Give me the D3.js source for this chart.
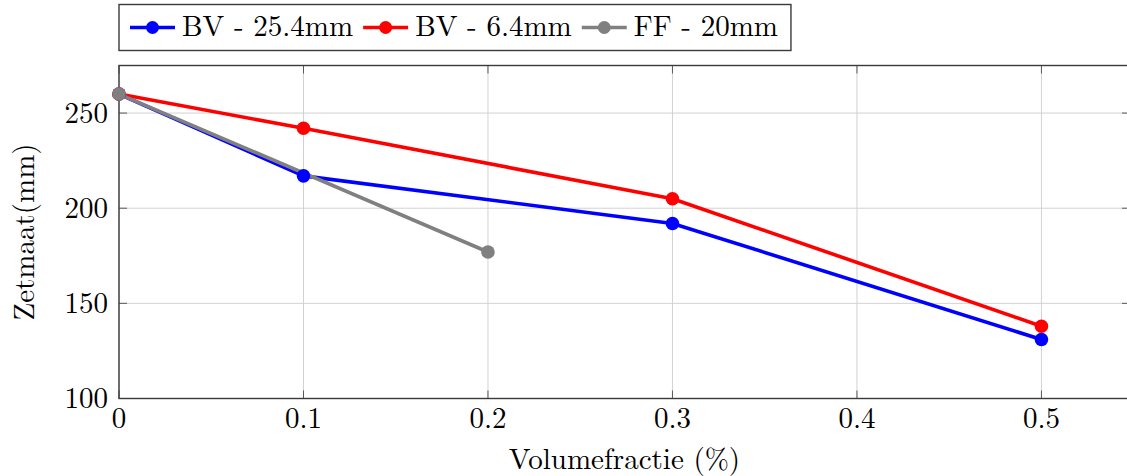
<!DOCTYPE html>
<html>
<head>
<meta charset="utf-8">
<script src="https://cdn.jsdelivr.net/npm/d3@7"></script>
<style>
  html, body { margin: 0; padding: 0; background: #fff; overflow: hidden; }
  svg { display: block; }
</style>
</head>
<body>
<svg id="chart" width="1127" height="476"></svg>
<script>
// Settlement (Zetmaat) versus fibre volume fraction
const seriesNames = ["BV - 25.4mm", "BV - 6.4mm", "FF - 20mm"];
const seriesColors = ["#0000ff", "#ff0000", "#808080"];
const bv254X = [0, 0.1, 0.3, 0.5];
const bv254Y = [260, 217, 192, 131];
const bv64X = [0, 0.1, 0.3, 0.5];
const bv64Y = [260, 242, 205, 138];
const ff20X = [0, 0.2];
const ff20Y = [260, 177];
const xTicks = [0, 0.1, 0.2, 0.3, 0.4, 0.5];
const yTicks = [100, 150, 200, 250];
const xTitle = "Volumefractie (%)";
const yTitle = "Zetmaat(mm)";

const series = [
  { name: seriesNames[0], color: seriesColors[0], pts: bv254X.map((x, i) => [x, bv254Y[i]]) },
  { name: seriesNames[1], color: seriesColors[1], pts: bv64X.map((x, i) => [x, bv64Y[i]]) },
  { name: seriesNames[2], color: seriesColors[2], pts: ff20X.map((x, i) => [x, ff20Y[i]]) }
];

const fontStack = "'Latin Modern Roman', 'CMU Serif', 'TeX Gyre Termes', 'Nimbus Roman', 'Nimbus Roman No9 L', " +
  "'FreeSerif', 'Noto Serif', 'Tinos', 'Liberation Serif', 'DejaVu Serif', 'Times New Roman', Times, Georgia, serif";

const plot = { left: 119, right: 1130, top: 65.5, bottom: 398.5 };
const svg = d3.select("#chart").style("font-family", fontStack);

const x = d3.scaleLinear().domain([0, 0.548]).range([plot.left, plot.right]);
const y = d3.scaleLinear().domain([100, 275]).range([plot.bottom, plot.top]);

const fontSize = 29;
const gridColor = "#d2d2d2";
const axisColor = "#3a3a3a";
const tickLen = 8;

// grid
const grid = svg.append("g");
grid.selectAll("line.gx").data(xTicks).join("line")
  .attr("x1", d => x(d)).attr("x2", d => x(d))
  .attr("y1", plot.top).attr("y2", plot.bottom)
  .attr("stroke", gridColor).attr("stroke-width", 1);
grid.selectAll("line.gy").data(yTicks).join("line")
  .attr("x1", plot.left).attr("x2", plot.right)
  .attr("y1", d => y(d)).attr("y2", d => y(d))
  .attr("stroke", gridColor).attr("stroke-width", 1);

// inward ticks on all sides
const ticks = svg.append("g").attr("stroke", "#5a5a5a").attr("stroke-width", 1);
xTicks.forEach(t => {
  ticks.append("line").attr("x1", x(t)).attr("x2", x(t)).attr("y1", plot.bottom).attr("y2", plot.bottom - tickLen);
  ticks.append("line").attr("x1", x(t)).attr("x2", x(t)).attr("y1", plot.top).attr("y2", plot.top + tickLen);
});
yTicks.forEach(t => {
  ticks.append("line").attr("x1", plot.left).attr("x2", plot.left + tickLen).attr("y1", y(t)).attr("y2", y(t));
  ticks.append("line").attr("x1", plot.right).attr("x2", plot.right - tickLen).attr("y1", y(t)).attr("y2", y(t));
});

// axis frame
svg.append("rect")
  .attr("x", plot.left).attr("y", plot.top)
  .attr("width", plot.right - plot.left).attr("height", plot.bottom - plot.top)
  .attr("fill", "none").attr("stroke", axisColor).attr("stroke-width", 1.4);

// tick labels
svg.append("g").selectAll("text").data(xTicks).join("text")
  .attr("x", d => x(d)).attr("y", 428)
  .attr("text-anchor", "middle").attr("font-size", fontSize)
  .text(d => d3.format("")(d));
svg.append("g").selectAll("text").data(yTicks).join("text")
  .attr("x", 108).attr("y", d => y(d)).attr("dy", "0.34em")
  .attr("text-anchor", "end").attr("font-size", fontSize)
  .text(d => d);

// axis titles
svg.append("text")
  .attr("x", (plot.left + plot.right) / 2).attr("y", 468.5)
  .attr("text-anchor", "middle").attr("font-size", fontSize)
  .text(xTitle);
svg.append("text")
  .attr("transform", `translate(34,${(plot.top + plot.bottom) / 2}) rotate(-90)`)
  .attr("text-anchor", "middle").attr("font-size", fontSize)
  .text(yTitle);

// lines first, then all markers on top
const line = d3.line().x(d => x(d[0])).y(d => y(d[1]));
const lines = svg.append("g");
series.forEach(s => {
  lines.append("path").datum(s.pts)
    .attr("d", line).attr("fill", "none")
    .attr("stroke", s.color).attr("stroke-width", 3.6)
    .attr("stroke-linejoin", "round");
});
const marks = svg.append("g");
series.forEach(s => {
  marks.selectAll(null).data(s.pts).join("circle")
    .attr("cx", d => x(d[0])).attr("cy", d => y(d[1]))
    .attr("r", 6.8).attr("fill", s.color);
});

// legend
const legend = svg.append("g");
const legY = 27.5;
let cx = 130;
series.forEach(s => {
  const g = legend.append("g");
  g.append("line").attr("x1", cx).attr("x2", cx + 45).attr("y1", legY).attr("y2", legY)
    .attr("stroke", s.color).attr("stroke-width", 3.6);
  g.append("circle").attr("cx", cx + 22.5).attr("cy", legY).attr("r", 6.5).attr("fill", s.color);
  const t = g.append("text").attr("x", cx + 52).attr("y", 36).attr("font-size", fontSize).text(s.name);
  const w = t.node().getComputedTextLength();
  cx = cx + 52 + w + 10;
});
legend.insert("rect", ":first-child")
  .attr("x", 119).attr("y", 4.5).attr("width", cx - 119 + 3).attr("height", 46)
  .attr("fill", "#fff").attr("stroke", axisColor).attr("stroke-width", 1.4);
</script>
</body>
</html>
